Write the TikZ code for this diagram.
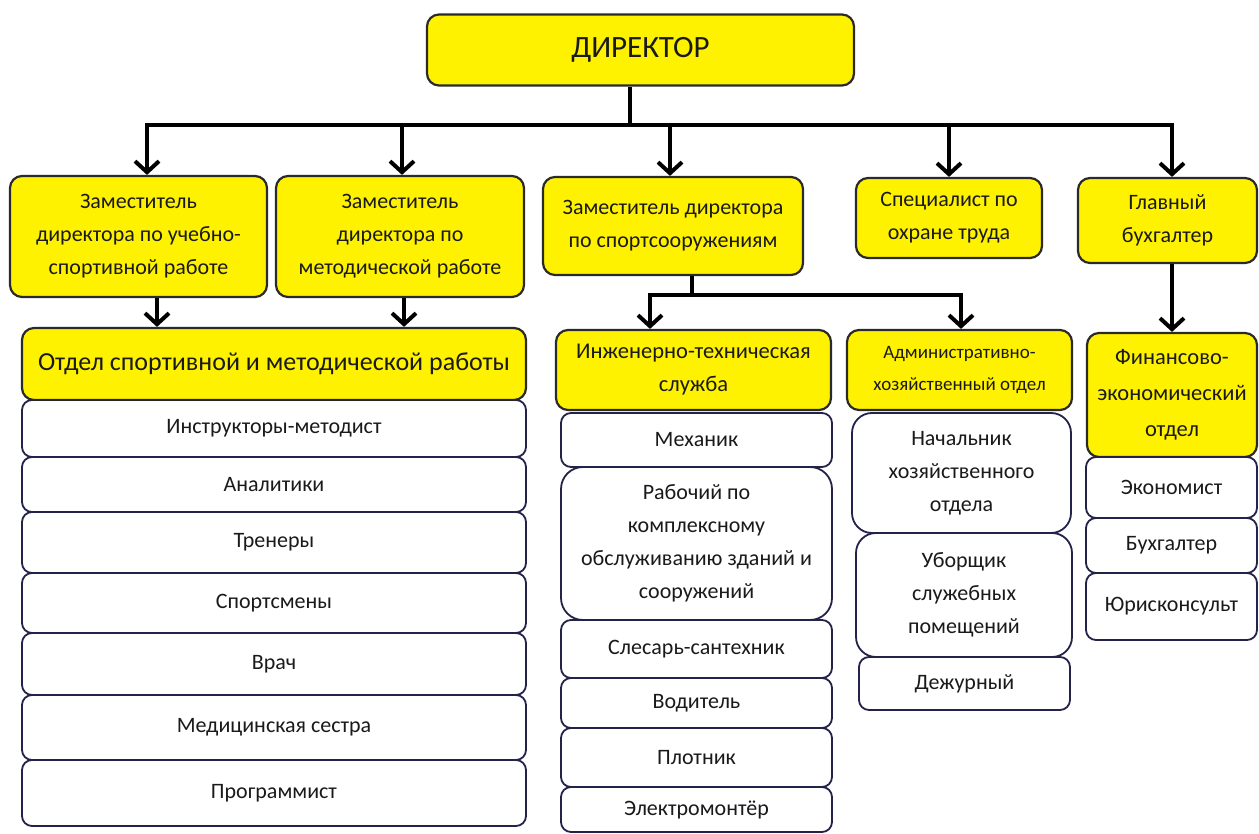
\documentclass[tikz,border=0pt]{standalone}
\usepackage{fontspec}
\setmainfont{Carlito}
\usetikzlibrary{arrows.meta}
\definecolor{bord}{HTML}{2A2A2A}
\definecolor{wbord}{HTML}{23234A}
\definecolor{txt}{HTML}{1A1A1A}
\tikzset{
  ybox/.style={draw=bord, line width=2.2pt, fill=yellow, rounded corners=12pt, align=center, inner sep=0pt, text=txt, font=\fontsize{22}{33}\selectfont},
  wbox/.style={draw=wbord, line width=1.8pt, fill=white, rounded corners=10pt, align=center, inner sep=0pt, text=txt, font=\fontsize{22}{33}\selectfont},
  conn/.style={draw=black, line width=4pt},
  arr/.style={draw=black, line width=4pt, -{Straight Barb[length=11pt,width=24pt]}},
}
\begin{document}
\begin{tikzpicture}[x=1pt,y=-1pt]
\useasboundingbox (0,0) rectangle (1259,834);
\fill[white] (0,0) rectangle (1259,834);

% top level
\node[ybox, minimum width=427pt, minimum height=71pt, font=\fontsize{31}{36}\selectfont] (dir) at (640.5,50) {ДИРЕКТОР};

\node[ybox, minimum width=257pt, minimum height=121pt] (z1) at (138.5,236.5) {Заместитель\\директора по учебно-\\спортивной работе};
\node[ybox, minimum width=248pt, minimum height=121pt] (z2) at (400,236.5) {Заместитель\\директора по\\методической работе};
\node[ybox, minimum width=260pt, minimum height=98pt] (z3) at (673,226) {Заместитель директора\\по спортсооружениям};
\node[ybox, minimum width=186pt, minimum height=80pt] (sp) at (949,218) {Специалист по\\охране труда};
\node[ybox, minimum width=179pt, minimum height=85pt] (gb) at (1167.5,220.5) {Главный\\бухгалтер};

% departments
\node[ybox, minimum width=504pt, minimum height=72pt, font=\fontsize{26}{33}\selectfont] (otd) at (274,364) {Отдел спортивной и методической работы};
\node[ybox, minimum width=275pt, minimum height=80pt, font=\fontsize{22.5}{33}\selectfont] (ing) at (693.5,370) {Инженерно-техническая\\служба};
\node[ybox, minimum width=225pt, minimum height=80pt, font=\fontsize{19}{32}\selectfont] (adm) at (959.5,370) {Административно-\\хозяйственный отдел};
\node[ybox, minimum width=170pt, minimum height=124pt, font=\fontsize{22.5}{36}\selectfont] (fin) at (1172,395) {Финансово-\\экономический\\отдел};

% left column
\node[wbox, minimum width=504pt, minimum height=57pt] (l1) at (274,428.5) {Инструкторы-методист};
\node[wbox, minimum width=504pt, minimum height=55pt] (l2) at (274,484.5) {Аналитики};
\node[wbox, minimum width=504pt, minimum height=61pt] (l3) at (274,542.5) {Тренеры};
\node[wbox, minimum width=504pt, minimum height=60pt] (l4) at (274,603) {Спортсмены};
\node[wbox, minimum width=504pt, minimum height=62pt] (l5) at (274,664) {Врач};
\node[wbox, minimum width=504pt, minimum height=65pt] (l6) at (274,727.5) {Медицинская сестра};
\node[wbox, minimum width=504pt, minimum height=66pt] (l7) at (274,793) {Программист};

% middle column
\node[wbox, minimum width=271pt, minimum height=54pt] (m1) at (696.5,440) {Механик};
\node[wbox, minimum width=271pt, minimum height=153pt, rounded corners=22pt] (m2) at (696.5,543.5) {Рабочий по\\комплексному\\обслуживанию зданий и\\сооружений};
\node[wbox, minimum width=271pt, minimum height=58pt] (m3) at (696.5,649) {Слесарь-сантехник};
\node[wbox, minimum width=271pt, minimum height=50pt] (m4) at (696.5,703) {Водитель};
\node[wbox, minimum width=271pt, minimum height=59pt] (m5) at (696.5,757.5) {Плотник};
\node[wbox, minimum width=271pt, minimum height=45pt] (m6) at (696.5,809.5) {Электромонтёр};

% admin column
\node[wbox, minimum width=219pt, minimum height=120pt, rounded corners=20pt] (a1) at (961.5,473) {Начальник\\хозяйственного\\отдела};
\node[wbox, minimum width=216pt, minimum height=124pt, rounded corners=20pt] (a2) at (964,595) {Уборщик\\служебных\\помещений};
\node[wbox, minimum width=211pt, minimum height=53pt] (a3) at (964.5,683.5) {Дежурный};

% finance column
\node[wbox, minimum width=171pt, minimum height=61pt] (f1) at (1171.5,487.5) {Экономист};
\node[wbox, minimum width=171pt, minimum height=55pt] (f2) at (1171.5,545.5) {Бухгалтер};
\node[wbox, minimum width=171pt, minimum height=67pt] (f3) at (1171.5,606.5) {Юрисконсульт};

% main bus
\coordinate (dj) at (630,125);
\coordinate (bL) at (147,125);
\coordinate (b2) at (402,125);
\coordinate (b3) at (670,125);
\coordinate (b4) at (949,125);
\coordinate (bR) at (1172,125);
\draw[conn] (dir.south -| dj) -- (dj);
\draw[conn, line cap=rect] (bL) -- (bR);
\draw[arr] (bL) -- (bL |- z1.north);
\draw[arr] (b2) -- (b2 |- z2.north);
\draw[arr] (b3) -- (b3 |- z3.north);
\draw[arr] (b4) -- (b4 |- sp.north);
\draw[arr] (bR) -- (bR |- gb.north);

% deputies to department
\coordinate (c1) at (157,0);
\coordinate (c2) at (404,0);
\draw[arr] (z1.south -| c1) -- (otd.north -| c1);
\draw[arr] (z2.south -| c2) -- (otd.north -| c2);

% sports facilities sub-bus
\coordinate (sj) at (692,295);
\coordinate (sL) at (650,295);
\coordinate (sR) at (961,295);
\draw[conn] (z3.south -| sj) -- (sj);
\draw[conn, line cap=rect] (sL) -- (sR);
\draw[arr] (sL) -- (sL |- ing.north);
\draw[arr] (sR) -- (sR |- adm.north);

% chief accountant to finance
\coordinate (gj) at (1172,0);
\draw[arr] (gb.south -| gj) -- (fin.north -| gj);
\end{tikzpicture}
\end{document}
